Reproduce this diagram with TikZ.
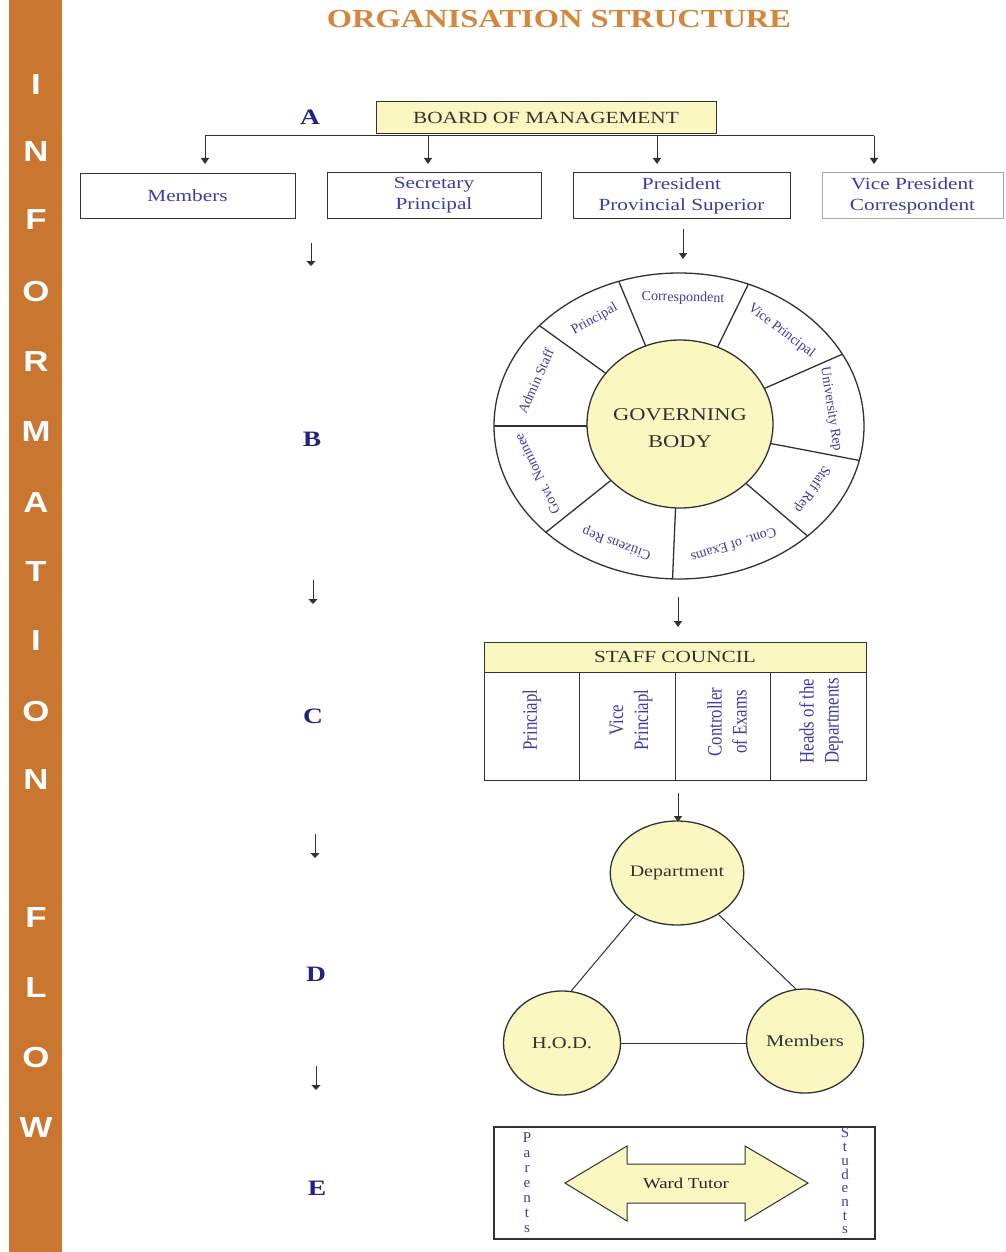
\documentclass[tikz,border=0pt]{standalone}
\usepackage{fontspec}
\setmainfont[FakeStretch=1.25]{Liberation Serif}
\newfontfamily\plainserif{Liberation Serif}
\newfontfamily\rotserif[FakeStretch=0.82]{Liberation Serif}
\newfontfamily\barfont[FakeStretch=1.2]{Liberation Sans}
\usetikzlibrary{arrows.meta,calc,shapes.geometric}
\definecolor{barorange}{RGB}{200,118,48}
\definecolor{titleorange}{RGB}{214,134,58}
\definecolor{paleyellow}{RGB}{250,247,192}
\definecolor{txtblue}{RGB}{60,60,165}
\definecolor{navy}{RGB}{35,35,130}
\definecolor{ink}{RGB}{50,50,50}
\newcommand\ringlab[3]{\node (#3) [ringtext,rotate={atan2(sin(#1)/127,cos(#1)/152)-90}] at ($(gc)+({153*cos(#1)},{128*sin(#1)})$) {#2};}
\begin{document}
\begin{tikzpicture}[x=1pt,y=1pt,
  box/.style={draw=ink,line width=1pt,fill=white,text=txtblue,align=center,inner sep=0pt,minimum height=45pt,font=\fontsize{17}{21}\selectfont},
  ybox/.style={draw=ink,line width=1pt,fill=paleyellow,text=ink,inner sep=0pt,font=\fontsize{17}{21}\selectfont},
  lvl/.style={text=navy,font=\bfseries\fontsize{22}{24}\selectfont},
  line/.style={draw=ink,line width=1pt},
  arr/.style={draw=ink,line width=1pt,-{Triangle[length=6pt,width=8pt]}},
  ring/.style={draw=ink,line width=1.3pt},
  ringtext/.style={text=txtblue,inner sep=0pt,font=\plainserif\fontsize{14}{16}\selectfont},
  rot/.style={rotate=90,text=txtblue,align=center,font=\rotserif\fontsize{20.5}{25}\selectfont},
  circ/.style={ellipse,draw=ink,line width=1.3pt,fill=paleyellow,text=ink,inner sep=0pt,minimum width=117pt,minimum height=104pt,font=\fontsize{16.5}{20}\selectfont},
  stack/.style={text=txtblue,align=center,inner sep=0pt,font=\plainserif\fontsize{15}{15}\selectfont}]
\useasboundingbox (0,0) rectangle (1005,-1252);
\fill[white] (0,0) rectangle (1005,-1252);
% side bar
\fill[barorange] (9,0) rectangle (62,-1252);
\foreach \l/\y in {I/85,N/152,F/220,O/292,R/362,M/432,A/503,T/572,I/641,O/712,N/780,F/918,L/988,O/1058,W/1128}
  \node (bar\y) [text=white,font=\barfont\bfseries\fontsize{29}{30}\selectfont] at (36,-\y) {\l};
% title
\node (title) [text=titleorange,font=\bfseries\fontsize{26}{28}\selectfont] at (559,-19) {ORGANISATION STRUCTURE};
% level letters
\node (lA) [lvl] at (310,-117) {A};
\node (lB) [lvl] at (312,-439) {B};
\node (lC) [lvl] at (313,-716) {C};
\node (lD) [lvl] at (316,-974) {D};
\node (lE) [lvl] at (317,-1188) {E};
% left flow arrows
\coordinate (fs1) at (311,-243); \coordinate (fe1) at (311,-266);
\coordinate (fs2) at (313,-580); \coordinate (fe2) at (313,-604);
\coordinate (fs3) at (315,-834); \coordinate (fe3) at (315,-858);
\coordinate (fs4) at (316,-1066); \coordinate (fe4) at (316,-1090);
\foreach \i in {1,2,3,4} \draw[draw=ink,line width=0.8pt,-{Triangle[length=5pt,width=9pt]}] (fs\i) -- (fe\i);
% A: board
\node (board) [ybox,minimum width=340pt,minimum height=32pt] at (546,-118) {BOARD OF MANAGEMENT};
\node (mem) [box,minimum width=215pt] at (187.5,-196) {Members};
\node (sec) [box,minimum width=214pt] at (434,-195.5) {Secretary\\Principal};
\node (pres) [box,minimum width=217pt] at (681.5,-195.5) {President\\Provincial Superior};
\node (vp) [box,draw=black!35,minimum width=181pt] at (912.5,-195.5) {Vice President\\Correspondent};
\coordinate (t1) at (205,-136); \coordinate (t2) at (428,-136);
\coordinate (t3) at (657,-136); \coordinate (t4) at (874,-136);
\draw[line] (t1) -- (t4);
\coordinate (h1) at (205,-164); \coordinate (h2) at (428,-164);
\coordinate (h3) at (657,-164); \coordinate (h4) at (874,-164);
\foreach \i in {1,2,3,4} \draw[arr] (t\i) -- (h\i);
% arrow to ring
\coordinate (p1) at (683,-229); \coordinate (p2) at (683,-259);
\draw[arr] (p1) -- (p2);
% B: governing body ring
\coordinate (gc) at (679,-426);
\draw[ring] (gc) ellipse [x radius=185,y radius=153];
\foreach \a in {109,68,28,-13,-46,-92,-136,-180,-221}
  \draw[ring] (gc) -- ($(gc)+({185*cos(\a)},{153*sin(\a)})$);
\filldraw[ring,fill=paleyellow] (680,-424) ellipse [x radius=93,y radius=84];
\node (gov) [text=ink,align=center,font=\fontsize{18}{27}\selectfont] at (680,-428) {GOVERNING\\BODY};
\ringlab{88.5}{Correspondent}{rl1}
\ringlab{48}{Vice Principal}{rl2}
\ringlab{7.5}{University Rep}{rl3}
\ringlab{-29.5}{Staff Rep}{rl4}
\ringlab{-69}{Cont. of Exams}{rl5}
\ringlab{-114}{Citizens Rep}{rl6}
\ringlab{-158}{Govt. Nominee}{rl7}
\ringlab{-200.5}{Admin Staff}{rl8}
\ringlab{-236.5}{Principal}{rl9}
% arrow to staff council
\coordinate (r1) at (678,-597); \coordinate (r2) at (678,-627);
\draw[arr] (r1) -- (r2);
% C: staff council
\node (sc) [ybox,minimum width=382pt,minimum height=30pt] at (675,-657) {STAFF COUNCIL};
\node (col1) [draw=ink,line width=1pt,minimum width=95.5pt,minimum height=108pt,inner sep=0pt] at (531.75,-726) {};
\node (col2) [draw=ink,line width=1pt,minimum width=95.5pt,minimum height=108pt,inner sep=0pt] at (627.25,-726) {};
\node (col3) [draw=ink,line width=1pt,minimum width=95.5pt,minimum height=108pt,inner sep=0pt] at (722.75,-726) {};
\node (col4) [draw=ink,line width=1pt,minimum width=95.5pt,minimum height=108pt,inner sep=0pt] at (818.25,-726) {};
\node (c1t) [rot] at (532,-720) {Princiapl};
\node (c2t) [rot] at (631,-720) {Vice\\Princiapl};
\node (c3t) [rot] at (727,-722) {Controller\\of Exams};
\node (c4t) [rot] at (821,-721) {Heads of the\\Departments};
\coordinate (s1) at (678,-793); \coordinate (s2) at (678,-822);
\draw[arr] (s1) -- (s2);
% D: department triangle
\node (dep) [circ,minimum width=115pt,font=\fontsize{16}{20}\selectfont] at (677,-873) {Department};
\node (hod) [circ] at (562,-1043) {H.O.D.};
\node (dmem) [circ] at (805,-1041) {Members};
\draw[line] (dep.225) -- (hod.80);
\draw[line] (dep.315) -- (dmem.100);
\draw[line] (hod.east) -- (dmem.west |- hod.east);
% E: ward tutor
\node (ebox) [draw=ink,line width=1.2pt,minimum width=381pt,minimum height=112pt,inner sep=0pt] at (684.5,-1183) {};
\filldraw[draw=ink,line width=1pt,fill=paleyellow] (565,-1183) -- (627,-1146) -- (627,-1164) -- (745,-1164) -- (745,-1146) -- (808,-1183) -- (745,-1221) -- (745,-1203) -- (627,-1203) -- (627,-1221) -- cycle;
\node (wt) [text=black!85,font=\fontsize{15}{18}\selectfont] at (686,-1183) {Ward Tutor};
\node (par) [stack] at (527,-1183) {P\\a\\r\\e\\n\\t\\s};
\node (stu) [stack,font=\plainserif\fontsize{15}{13.7}\selectfont] at (845,-1181) {S\\t\\u\\d\\e\\n\\t\\s};
\end{tikzpicture}
\end{document}
